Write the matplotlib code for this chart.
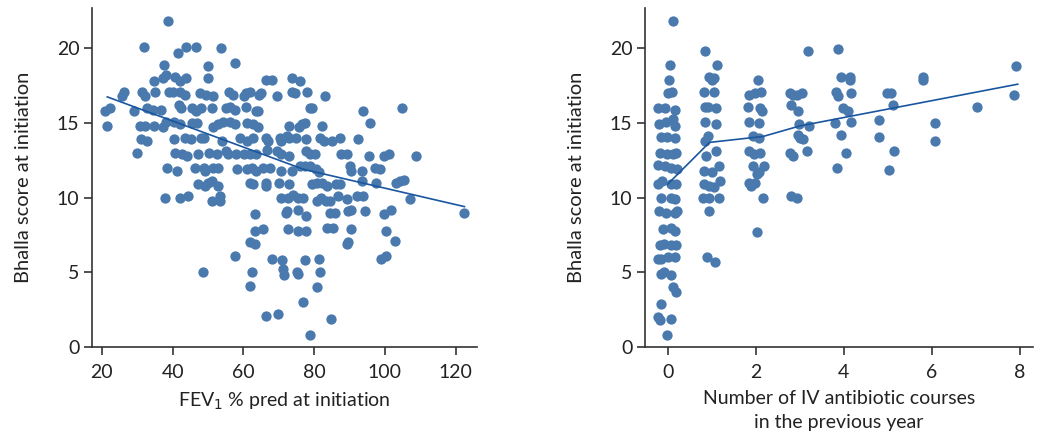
import matplotlib.pyplot as plt
import numpy as np

plt.rcParams['font.family'] = ['Lato', 'DejaVu Sans']

# Left panel: FEV1 % predicted vs Bhalla score
fev_x = [
    38.7, 32.0, 43.7, 46.5, 41.4, 53.8, 57.5, 50.0, 50.0, 37.6, 37.3, 38.2, 40.7, 42.0, 43.8,
    34.7, 31.3, 32.3, 25.6, 26.3, 35.0, 39.0, 40.1, 42.0, 43.5, 47.7, 49.3, 51.4, 55.8, 57.1,
    60.1, 60.8, 61.9, 64.4, 21.0, 22.2, 21.5, 29.1, 32.6, 34.5, 36.8, 30.7, 32.3, 34.6, 37.4,
    38.2, 40.3, 42.0, 41.8, 42.4, 45.5, 46.7, 48.1, 51.0, 45.5, 46.8, 51.4, 52.8, 54.2, 56.1,
    57.6, 55.2, 56.3, 57.6, 60.7, 63.5, 31.0, 32.6, 40.3, 43.5, 45.3, 48.0, 48.8, 53.9, 59.0,
    60.9, 62.8, 29.9, 40.6, 42.5, 44.1, 47.2, 50.3, 52.4, 55.0, 55.7, 57.9, 60.1, 62.0, 63.7,
    38.5, 41.1, 46.3, 48.8, 49.0, 51.5, 52.9, 58.2, 61.0, 62.4, 63.7, 47.3, 49.0, 50.0, 51.1,
    52.8, 61.8, 62.7, 37.8, 42.0, 44.3, 51.0, 53.5, 53.5, 63.3, 63.3, 61.8, 63.2, 57.5, 48.7,
    62.5, 62.0,
    66.3, 68.1, 73.6, 75.9, 65.1, 69.5, 73.6, 74.5, 78.0, 83.0, 64.0, 78.8, 79.5, 93.9, 104.7,
    95.9, 61.0, 62.7, 64.1, 72.8, 75.8, 76.7, 77.4, 82.2, 66.3, 67.0, 70.3, 70.5, 72.3, 73.0,
    75.0, 77.6, 81.7, 82.9, 85.1, 87.4, 92.4, 66.8, 69.5, 70.7, 72.9, 77.8, 78.7, 80.1, 87.5,
    89.4, 95.6, 99.7, 101.3, 108.7, 65.6, 67.5, 70.7, 73.6, 75.9, 77.3, 78.7, 80.6, 81.4, 90.1,
    90.3, 93.6, 97.1, 98.5, 66.3, 66.3, 70.0, 72.8, 79.3, 80.7, 82.1, 83.7, 86.1, 87.2, 93.6,
    97.4, 103.2, 104.4, 105.5, 70.6, 72.6, 74.1, 75.5, 76.9, 80.8, 82.0, 83.4, 84.6, 86.8, 89.2,
    92.0, 93.8, 107.0, 71.9, 72.3, 75.3, 77.6, 84.4, 85.8, 89.6, 90.3, 94.5, 99.7, 101.6, 122.5,
    65.4, 68.1, 71.0, 71.2, 71.5, 75.2, 75.5, 77.4, 81.4, 81.7, 80.8, 76.9, 66.3, 69.8, 84.7,
    78.8, 72.7, 75.5, 77.8, 90.3, 89.2, 89.6, 100.2, 102.8, 99.0, 100.4, 83.6, 85.3,
]
fev_y = [
    21.8, 20.1, 20.1, 20.1, 19.7, 20.0, 19.0, 18.8, 18.0, 18.9, 18.0, 18.2, 18.1, 17.8, 18.0,
    17.8, 17.1, 16.8, 16.8, 17.1, 17.1, 17.1, 17.1, 17.1, 16.9, 17.0, 16.9, 16.8, 17.1, 16.9,
    16.8, 17.0, 17.1, 16.9, 15.8, 16.0, 14.8, 15.8, 16.0, 15.9, 15.9, 14.8, 14.8, 14.8, 14.7,
    15.1, 15.1, 14.9, 16.2, 16.0, 16.0, 15.8, 16.0, 16.0, 15.0, 15.0, 14.7, 14.9, 15.1, 15.1,
    14.9, 16.0, 16.1, 15.9, 16.1, 15.8, 13.9, 13.8, 13.9, 14.0, 13.9, 14.0, 14.0, 13.8, 14.0,
    13.8, 14.0, 13.0, 13.0, 12.9, 12.8, 12.9, 13.0, 12.9, 13.1, 12.9, 12.9, 12.9, 12.9, 12.9,
    12.0, 11.8, 12.0, 12.0, 11.8, 12.0, 12.0, 11.9, 11.9, 12.0, 11.8, 10.9, 10.8, 11.0, 11.1,
    10.8, 11.0, 10.9, 10.0, 10.0, 10.1, 9.8, 9.8, 10.1, 8.9, 7.8, 7.0, 6.9, 6.1, 5.0,
    5.0, 4.1,
    17.9, 17.9, 18.0, 17.8, 17.0, 16.8, 17.1, 17.0, 17.1, 16.8, 15.8, 16.0, 16.0, 15.8, 16.0,
    15.0, 15.0, 14.9, 14.7, 14.8, 14.7, 14.9, 15.0, 14.8, 14.0, 13.8, 14.0, 13.8, 14.1, 14.0,
    14.0, 13.9, 14.0, 13.8, 13.8, 14.0, 13.9, 13.2, 13.1, 12.9, 12.8, 13.1, 12.9, 12.9, 12.9,
    12.9, 12.8, 12.8, 12.9, 12.8, 12.0, 12.0, 11.8, 11.8, 12.1, 12.1, 12.1, 11.9, 11.7, 12.1,
    11.8, 11.8, 12.0, 11.9, 11.0, 10.8, 11.0, 10.9, 10.9, 11.0, 11.0, 10.8, 10.9, 10.9, 11.1,
    11.0, 11.0, 11.1, 11.2, 10.0, 10.0, 10.2, 10.0, 10.0, 9.8, 10.0, 9.8, 9.8, 10.1, 9.9,
    10.1, 10.1, 9.9, 9.0, 9.1, 9.2, 8.8, 9.0, 9.0, 9.1, 9.2, 9.1, 8.9, 9.2, 9.0,
    7.9, 5.9, 5.8, 5.2, 4.8, 5.0, 4.9, 5.8, 5.9, 5.0, 4.0, 3.0, 2.1, 2.2, 1.9,
    0.8, 7.9, 7.8, 7.8, 7.9, 6.9, 7.0, 7.8, 7.1, 5.9, 6.1, 8.0, 8.0,
]
fev_fit_x = [21.5, 77.0, 122.5]
fev_fit_y = [16.75, 11.9, 9.4]

# Right panel: IV antibiotic courses (jittered) vs Bhalla score
iv_x = [
    0.12, 0.06, 0.03, 0.00, 0.10, -0.23, -0.05, 0.16, -0.20, -0.03, 0.11, 0.16, -0.16, -0.01, 0.16,
    -0.18, -0.02, 0.11, 0.20, -0.21, -0.05, 0.08, 0.21, -0.23, -0.14, 0.08, 0.20, -0.16, 0.08, 0.16,
    -0.20, -0.03, 0.16, 0.21, -0.11, 0.08, 0.16, -0.18, -0.09, 0.08, 0.20, -0.22, -0.15, 0.00, 0.16,
    -0.16, -0.08, 0.08, 0.12, 0.18, -0.16, -0.22, -0.18, 0.07, -0.01,
    0.84, 1.12, 0.95, 1.05, 1.00, 0.82, 1.05, 0.84, 0.92, 1.11, 0.86, 1.11, 0.92, 0.84, 0.88,
    1.11, 1.17, 0.82, 1.00, 1.20, 0.82, 0.94, 1.05, 0.80, 0.94, 1.17, 0.93, 0.89, 1.08,
    2.05, 1.85, 1.98, 2.13, 1.83, 2.10, 2.14, 1.86, 2.08, 1.94, 2.08, 1.86, 2.09, 1.96, 1.94,
    2.18, 2.07, 2.02, 1.84, 1.90, 1.98, 2.17, 2.02,
    3.18, 2.79, 2.85, 2.94, 3.06, 2.80, 2.97, 2.98, 3.21, 2.96, 3.08, 3.02, 2.79, 2.85, 3.17,
    2.81, 2.95,
    3.88, 3.95, 4.15, 4.15, 3.82, 3.87, 4.16, 3.98, 4.11, 3.80, 4.17, 3.95, 4.06, 3.85,
    4.80, 4.80, 4.99, 5.07, 5.12, 5.14, 5.03,
    5.80, 5.80, 6.08, 6.08, 7.03, 7.91, 7.87,
]
iv_y = [
    21.8, 18.9, 17.9, 17.0, 17.1, 16.0, 16.0, 15.9, 14.95, 15.1, 15.3, 14.8, 14.05, 14.05, 14.0,
    13.0, 12.95, 12.95, 13.0, 12.2, 12.1, 12.0, 11.95, 10.9, 11.1, 10.9, 10.9, 10.0, 9.95, 9.9,
    9.1, 9.0, 9.0, 9.1, 7.9, 8.0, 7.8, 6.8, 6.9, 6.8, 6.8, 5.9, 5.9, 6.0, 6.0,
    4.9, 5.0, 4.8, 4.0, 3.7, 2.9, 2.0, 1.8, 1.9, 0.8,
    19.8, 18.9, 18.1, 18.0, 17.9, 17.1, 17.1, 16.1, 16.1, 16.0, 15.1, 14.9, 14.1, 13.8, 12.8,
    13.1, 12.1, 11.8, 11.7, 11.1, 10.9, 10.8, 10.7, 10.0, 9.95, 9.95, 9.1, 6.0, 5.7,
    17.9, 16.9, 17.0, 17.1, 16.1, 16.0, 15.8, 15.1, 15.0, 14.1, 14.0, 13.1, 13.0, 12.9, 12.1,
    12.1, 11.7, 11.6, 11.0, 10.8, 11.0, 10.0, 7.7,
    19.8, 17.0, 16.9, 16.9, 17.0, 16.2, 15.8, 14.95, 14.8, 14.2, 13.9, 14.0, 13.0, 12.8, 13.1,
    10.1, 10.0,
    19.95, 18.1, 18.1, 17.9, 17.1, 16.8, 17.0, 16.0, 15.8, 15.0, 15.1, 14.2, 13.0, 12.0,
    15.2, 14.05, 17.0, 17.0, 16.2, 13.1, 11.85,
    18.1, 17.9, 15.0, 13.8, 16.1, 18.8, 16.9,
]
iv_fit_x = [0, 0.95, 2.17, 3.0, 7.96]
iv_fit_y = [10.9, 13.7, 14.1, 14.8, 17.6]

dot_color = '#4a79ad'
line_color = '#1a56a0'
axis_color = '#333333'
text_color = '#222222'

fig = plt.figure(figsize=(10.4, 4.34), dpi=100)
ax1 = fig.add_axes([0.0885, 0.2005, 0.370, 0.781])
ax2 = fig.add_axes([0.620, 0.2005, 0.373, 0.781])

ax1.scatter(fev_x, fev_y, s=55, color=dot_color, linewidths=0, zorder=2)
ax1.plot(fev_fit_x, fev_fit_y, color=line_color, lw=1.2, zorder=3)
ax1.set_xlim(17.2, 126)
ax1.set_xticks([20, 40, 60, 80, 100, 120])
ax1.set_xlabel('FEV$_1$ % pred at initiation', fontsize=14, color=text_color, labelpad=7)

ax2.scatter(iv_x, iv_y, s=55, color=dot_color, linewidths=0, zorder=2)
ax2.plot(iv_fit_x, iv_fit_y, color=line_color, lw=1.2, zorder=3)
ax2.set_xlim(-0.52, 8.3)
ax2.set_xticks([0, 2, 4, 6, 8])
ax2.set_xlabel('Number of IV antibiotic courses\nin the previous year', fontsize=14,
               color=text_color, labelpad=7, linespacing=1.5)

for ax in (ax1, ax2):
    ax.set_ylim(0, 22.7)
    ax.set_yticks([0, 5, 10, 15, 20])
    ax.set_ylabel('Bhalla score at initiation', fontsize=14.5, color=text_color, labelpad=18)
    ax.spines['top'].set_visible(False)
    ax.spines['right'].set_visible(False)
    for s in ('left', 'bottom'):
        ax.spines[s].set_color(axis_color)
        ax.spines[s].set_linewidth(1.2)
    ax.tick_params(direction='out', length=6, width=1.2, color=axis_color, pad=3,
                   labelsize=14, labelcolor=text_color)
    ax.tick_params(axis='x', pad=6)

fig.savefig('out.png', dpi=100)
